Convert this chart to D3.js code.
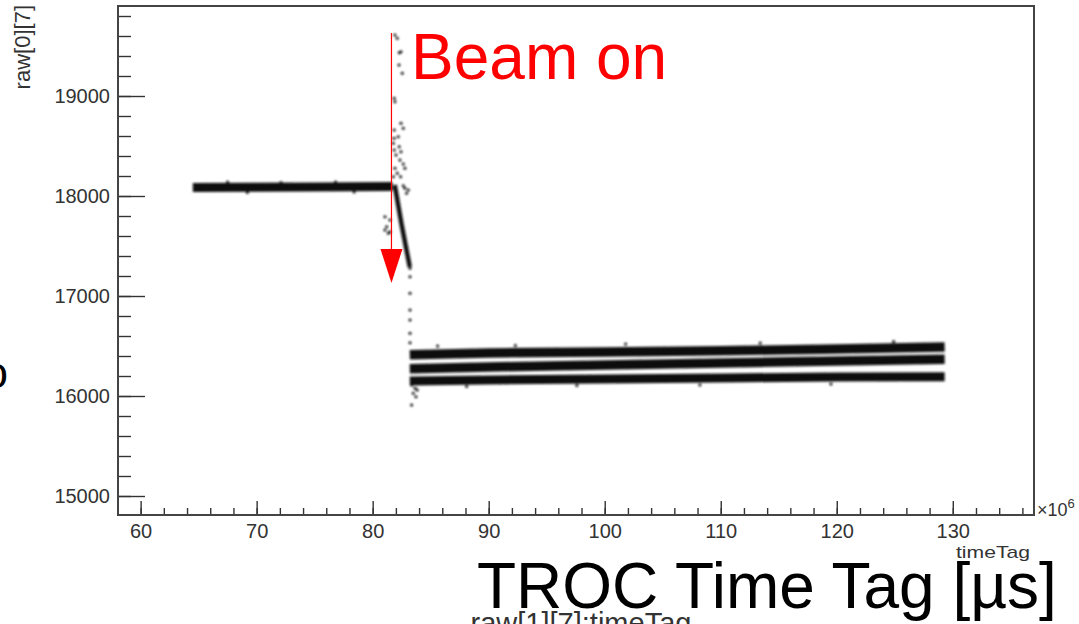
<!DOCTYPE html>
<html>
<head>
<meta charset="utf-8">
<script src="https://cdn.jsdelivr.net/npm/d3@7"></script>
<style>
  body { margin: 0; background: #fff; }
  text { font-family: "Liberation Sans", Arial, sans-serif; }
</style>
</head>
<body>
<svg id="chart" width="1079" height="624"></svg>
<script>
// x in units of 10^6 (timeTag), y is raw[0][7]
const xMajor = [60, 70, 80, 90, 100, 110, 120, 130];
const yMajor = [15000, 16000, 17000, 18000, 19000];

// centre lines of the dense bands
const bandBefore = [[64.5, 18085], [70, 18087], [75, 18090], [81.7, 18095]];
const bandDrop = [[81.9, 18110], [82.5, 17710], [83.2, 17290]];
const bandHigh = [[83.2, 16412], [90, 16430], [100, 16440], [110, 16452], [120, 16470], [129.3, 16490]];
const bandMid = [[83.2, 16272], [90, 16290], [100, 16310], [110, 16330], [120, 16350], [129.3, 16368]];
const bandLow = [[83.2, 16150], [90, 16160], [100, 16170], [110, 16180], [120, 16190], [129.3, 16192]];

// isolated points around the beam-on step
const strayPoints = [
  [81.92, 19610], [82.12, 19577], [82.29, 19433], [82.44, 19443], [82.27, 19310],
  [82.55, 19227], [81.86, 18977], [81.92, 18943], [82.44, 18727], [82.64, 18677],
  [81.86, 18660], [82.21, 18593], [81.84, 18577], [81.78, 18527], [82.29, 18493],
  [81.86, 18460], [82.44, 18443], [82.01, 18410], [82.35, 18360], [82.64, 18320],
  [81.92, 18277], [82.78, 18277], [82.12, 18227], [81.78, 18193], [82.41, 18193],
  [82.64, 18103], [82.78, 18077], [83.07, 18060], [82.92, 18027],
  [81.06, 17793], [81.49, 17760], [81.21, 17693], [81.06, 17660], [81.49, 17643], [81.35, 17627],
  [83.22, 17277], [83.22, 17193], [83.22, 17027], [83.22, 16860], [83.22, 16760],
  [83.22, 16627], [83.22, 16533],
  [83.36, 16110], [83.65, 16077], [83.84, 16060], [83.5, 16027], [83.73, 15993], [83.36, 15910],
  [67.5, 18140], [72.1, 18135], [76.8, 18140], [69.2, 18035], [78.4, 18040],
  [85.6, 16500], [92.3, 16505], [101.8, 16520], [113.4, 16530], [124.9, 16545],
  [88.1, 16095], [97.6, 16105], [108.2, 16110], [119.5, 16120]
];

const beamOnTime = 81.62;
const beamLine = [19630, 17470];
const beamArrowTip = 17130;

const svg = d3.select("#chart");
const W = 1079;
const H = 624;

const x = d3.scaleLinear().domain([58.05, 137.0]).range([118, 1034]);
const y = d3.scaleLinear().domain([14810, 19900]).range([515, 6]);

svg.append("rect").attr("width", W).attr("height", H).attr("fill", "#fff");

/**
 * Draws the axes with ROOT style inward ticks.
 */
function drawAxes() {
  // minor ticks first
  svg.append("g")
    .attr("transform", "translate(" + x.range()[0] + ",0)")
    .call(d3.axisLeft(y).tickValues(d3.range(15000, 19900, 200)).tickSize(-13).tickSizeOuter(0).tickFormat(""))
    .call((g) => g.select(".domain").remove())
    .selectAll("line").attr("stroke", "#333").attr("stroke-width", 1.4);

  svg.append("g")
    .attr("transform", "translate(0," + y.range()[0] + ")")
    .call(d3.axisBottom(x).tickValues(d3.range(60, 137, 2)).tickSize(-7).tickSizeOuter(0).tickFormat(""))
    .call((g) => g.select(".domain").remove())
    .selectAll("line").attr("stroke", "#333").attr("stroke-width", 1.4);

  let yAxis = svg.append("g")
    .attr("transform", "translate(" + x.range()[0] + ",0)")
    .call(d3.axisLeft(y).tickValues(yMajor).tickSize(-27).tickSizeOuter(0).tickPadding(8).tickFormat(d3.format("d")));
  yAxis.selectAll("line").attr("stroke", "#333").attr("stroke-width", 1.4);
  yAxis.selectAll("text").attr("font-size", "20px").attr("fill", "#333")
    .attr("font-family", "Liberation Sans, Arial, sans-serif");
  yAxis.select(".domain").remove();

  let xAxis = svg.append("g")
    .attr("transform", "translate(0," + y.range()[0] + ")")
    .call(d3.axisBottom(x).tickValues(xMajor).tickSize(-14).tickSizeOuter(0).tickPadding(9));
  xAxis.selectAll("line").attr("stroke", "#333").attr("stroke-width", 1.4);
  xAxis.selectAll("text").attr("font-size", "20px").attr("fill", "#333")
    .attr("font-family", "Liberation Sans, Arial, sans-serif");
  xAxis.select(".domain").remove();

  // frame
  svg.append("rect")
    .attr("x", x.range()[0])
    .attr("y", y.range()[1])
    .attr("width", x.range()[1] - x.range()[0])
    .attr("height", y.range()[0] - y.range()[1])
    .attr("fill", "none")
    .attr("stroke", "#444")
    .attr("stroke-width", 2);
}

/**
 * Draws the point bands and the stray points.
 */
function drawData() {
  svg.append("defs")
    .append("filter")
    .attr("id", "soft")
    .append("feGaussianBlur")
    .attr("stdDeviation", 0.9);

  let g = svg.append("g").attr("filter", "url(#soft)");
  let line = d3.line().x((d) => x(d[0])).y((d) => y(d[1]));
  let px = (v) => Math.abs(y(0) - y(v));

  let bands = [
    { pts: bandBefore, thick: 90 },
    { pts: bandDrop, thick: 45 },
    { pts: bandHigh, thick: 95 },
    { pts: bandMid, thick: 95 },
    { pts: bandLow, thick: 90 }
  ];

  g.selectAll("path.band")
    .data(bands)
    .join("path")
    .attr("class", "band")
    .attr("d", (d) => line(d.pts))
    .attr("fill", "none")
    .attr("stroke", "#111")
    .attr("stroke-width", (d) => px(d.thick));

  g.selectAll("circle")
    .data(strayPoints)
    .join("circle")
    .attr("cx", (d) => x(d[0]))
    .attr("cy", (d) => y(d[1]))
    .attr("r", 1.5)
    .attr("fill", "#111");
}

/**
 * Axis titles and the slide overlay texts.
 */
function drawTexts() {
  svg.append("text")
    .text("raw[0][7]")
    .attr("transform", "translate(30,5) rotate(-90)")
    .attr("text-anchor", "end")
    .attr("font-size", "22px")
    .attr("fill", "#333");

  let mult = svg.append("text")
    .attr("x", 1037)
    .attr("y", 516)
    .attr("font-size", "18px")
    .attr("fill", "#333")
    .text("×10");
  mult.append("tspan").attr("dy", -8).attr("font-size", "13px").text("6");

  svg.append("text")
    .text("timeTag")
    .attr("x", 1030)
    .attr("y", 558)
    .attr("text-anchor", "end")
    .attr("font-size", "17px")
    .attr("textLength", 74)
    .attr("lengthAdjust", "spacingAndGlyphs")
    .attr("fill", "#333");

  svg.append("text")
    .text("raw[1][7]:timeTag")
    .attr("x", 581)
    .attr("y", 633)
    .attr("text-anchor", "middle")
    .attr("font-size", "29px")
    .attr("fill", "#333");

  svg.append("text")
    .text("TROC Time Tag [µs]")
    .attr("x", 477)
    .attr("y", 608)
    .attr("font-size", "64px")
    .attr("fill", "#000");

  svg.append("text")
    .text("o")
    .attr("x", 8)
    .attr("y", 388)
    .attr("text-anchor", "end")
    .attr("font-size", "44px")
    .attr("fill", "#000");

  svg.append("text")
    .text("Beam on")
    .attr("x", 411)
    .attr("y", 79)
    .attr("font-size", "64px")
    .attr("fill", "#ff0000");
}

/**
 * Red marker for the moment the beam was switched on.
 */
function drawBeamMarker() {
  svg.append("line")
    .attr("x1", x(beamOnTime))
    .attr("x2", x(beamOnTime))
    .attr("y1", y(beamLine[0]))
    .attr("y2", y(beamLine[1]))
    .attr("stroke", "#ff0000")
    .attr("stroke-width", 1.2);

  let cx = x(beamOnTime);
  svg.append("path")
    .attr("d", "M" + (cx - 11) + "," + y(beamLine[1]) +
      "L" + (cx + 11) + "," + y(beamLine[1]) +
      "L" + cx + "," + y(beamArrowTip) + "Z")
    .attr("fill", "#ff0000");
}

drawData();
drawAxes();
drawTexts();
drawBeamMarker();
</script>
</body>
</html>
